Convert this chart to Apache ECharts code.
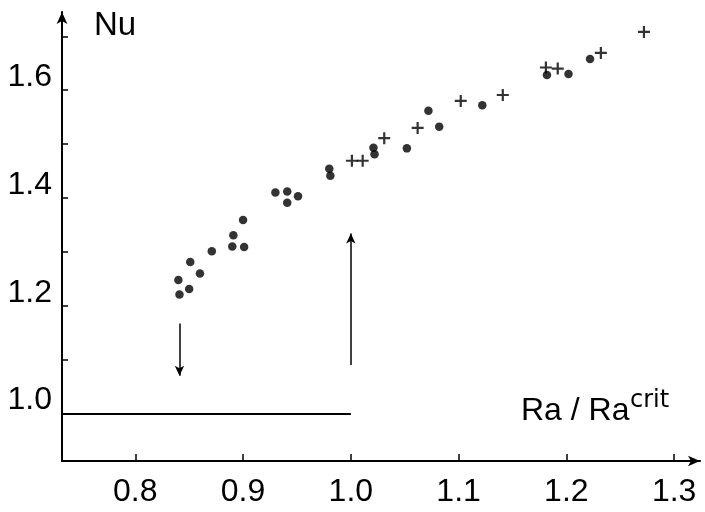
<!DOCTYPE html>
<html>
<head>
<meta charset="utf-8">
<script src="https://cdn.jsdelivr.net/npm/echarts@6/dist/echarts.min.js"></script>
<style>
  html, body { margin: 0; padding: 0; background: #fff; }
  #chart { width: 705px; height: 512px; }
</style>
</head>
<body>
<div id="chart"></div>
<script>
// measured points (Ra/Ra_crit, Nu)
const dotPoints = [
    [0.840, 1.248], [0.841, 1.221], [0.850, 1.231], [0.851, 1.281], [0.860, 1.260],
    [0.871, 1.301], [0.891, 1.331], [0.890, 1.310], [0.901, 1.309], [0.900, 1.359],
    [0.930, 1.410], [0.941, 1.412], [0.951, 1.403], [0.941, 1.391], [0.980, 1.454],
    [0.981, 1.441], [1.021, 1.493], [1.022, 1.481], [1.052, 1.492], [1.072, 1.562],
    [1.082, 1.532], [1.122, 1.572], [1.182, 1.628], [1.202, 1.630], [1.222, 1.658]
];
const crossPoints = [
    [1.001, 1.469], [1.011, 1.469], [1.031, 1.511], [1.062, 1.530], [1.102, 1.580],
    [1.141, 1.591], [1.181, 1.642], [1.192, 1.640], [1.232, 1.669], [1.272, 1.708]
];

// reference line at Nu = 1 and the two hysteresis arrows
const baseLine = [[0.732, 1.0], [1.0, 1.0]];
const downArrow = [[0.841, 1.167], [0.841, 1.07]];
const upArrow = [[1.0, 1.09], [1.0, 1.334]];

const xTicks = [0.8, 0.9, 1.0, 1.1, 1.2, 1.3];
const yTicks = [1.0, 1.1, 1.2, 1.3, 1.4, 1.5, 1.6, 1.7];
const yLabels = [1.0, 1.2, 1.4, 1.6];

const FONT = '"Liberation Sans", Arial, sans-serif';
const crossSymbol = 'path://M-6,-1.1H6V1.1H-6ZM-1.1,-6H1.1V6H-1.1Z';

const chart = echarts.init(document.getElementById('chart'));

chart.setOption({
    animation: false,
    backgroundColor: '#fff',
    grid: { left: 62, top: 12, width: 638, height: 449 },
    xAxis: {
        type: 'value', min: 0.732, max: 1.324,
        splitLine: { show: false },
        axisLine: { lineStyle: { color: '#000', width: 2 }, symbol: ['none', 'arrow'], symbolSize: [8, 12] },
        axisTick: { inside: true, length: 7, lineStyle: { color: '#000', width: 1.5 }, customValues: xTicks },
        axisLabel: {
            customValues: xTicks, color: '#000', fontFamily: FONT, fontSize: 32,
            lineHeight: 32, margin: 15,
            formatter: v => v.toFixed(1)
        }
    },
    yAxis: {
        type: 'value', min: 0.912, max: 1.745,
        splitLine: { show: false },
        axisLine: { lineStyle: { color: '#000', width: 2 }, symbol: ['none', 'arrow'], symbolSize: [8, 12] },
        axisTick: { inside: true, length: 6, lineStyle: { color: '#000', width: 1.5 }, customValues: yTicks },
        axisLabel: {
            customValues: yLabels, color: '#000', fontFamily: FONT, fontSize: 32,
            lineHeight: 26, verticalAlign: 'bottom', margin: 10,
            formatter: v => v.toFixed(1)
        }
    },
    graphic: [
        { type: 'text', left: 94, top: 9, style: { text: 'Nu', fontFamily: FONT, fontSize: 33, fill: '#000' } },
        { type: 'text', left: 521, top: 395, style: { text: 'Ra / Ra', fontFamily: FONT, fontSize: 32, fill: '#000' } },
        { type: 'text', left: 630, top: 389, style: { text: 'crit', fontFamily: '"DejaVu Sans", sans-serif', fontSize: 24, fill: '#000' } }
    ],
    series: [
        {
            type: 'scatter', data: dotPoints,
            symbol: 'circle', symbolSize: 8.5,
            itemStyle: { color: '#000' },
            markLine: {
                silent: true, symbol: 'none',
                label: { show: false },
                lineStyle: { color: '#000', width: 2, type: 'solid' },
                data: [
                    [{ coord: baseLine[0] }, { coord: baseLine[1] }],
                    [{ coord: downArrow[0], lineStyle: { width: 1.5 } }, { coord: downArrow[1], symbol: 'arrow', symbolSize: [7, 10] }],
                    [{ coord: upArrow[0], lineStyle: { width: 1.5 } }, { coord: upArrow[1], symbol: 'arrow', symbolSize: [7, 10] }]
                ]
            }
        },
        {
            type: 'scatter', data: crossPoints,
            symbol: crossSymbol, symbolSize: 12,
            itemStyle: { color: '#000' }
        }
    ]
});
</script>
</body>
</html>
